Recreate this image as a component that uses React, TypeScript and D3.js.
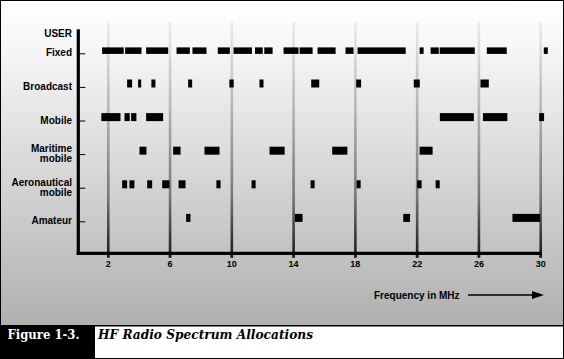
import React from "react";
import * as d3 from "d3";

const users = ["Fixed", "Broadcast", "Mobile", "Maritime mobile", "Aeronautical mobile", "Amateur"];
const userLabels = [["Fixed"], ["Broadcast"], ["Mobile"], ["Maritime", "mobile"], ["Aeronautical", "mobile"], ["Amateur"]];

const fixedBands = [[1.6, 3.0], [3.09, 4.15], [4.45, 5.88], [6.42, 7.28], [7.45, 8.36], [9.09, 9.87], [10.11, 11.3], [11.5, 12.0], [12.1, 12.64], [13.35, 14.32], [14.39, 15.23], [15.55, 16.72], [17.36, 17.88], [18.14, 21.26], [22.16, 22.42], [22.87, 23.4], [23.46, 25.73], [26.51, 27.8], [30.2, 30.46]];
const broadcastBands = [[3.22, 3.54], [3.93, 4.13], [4.79, 5.05], [7.17, 7.43], [9.84, 10.12], [11.79, 12.05], [15.14, 15.66], [18.05, 18.37], [21.78, 22.17], [26.1, 26.64]];
const mobileBands = [[1.55, 2.79], [3.05, 3.39], [3.48, 3.82], [4.45, 5.55], [23.47, 25.67], [26.26, 27.84], [29.9, 30.22]];
const maritimeBands = [[4.02, 4.47], [6.2, 6.68], [8.23, 9.2], [12.44, 13.42], [16.5, 17.48], [22.16, 23.0]];
const aeroBands = [[2.9, 3.22], [3.37, 3.69], [4.52, 4.84], [5.49, 5.96], [6.55, 7.0], [9.0, 9.27], [11.28, 11.54], [15.1, 15.36], [18.08, 18.34], [22.0, 22.29], [23.2, 23.46]];
const amateurBands = [[7.04, 7.32], [14.08, 14.58], [21.1, 21.54], [28.17, 29.96]];

const bandsByUser = [fixedBands, broadcastBands, mobileBands, maritimeBands, aeroBands, amateurBands];
const freqTicks = [2, 6, 10, 14, 18, 22, 26, 30];

const W = 564, H = 359;
const SANS = "'Liberation Sans', Arial, Helvetica, sans-serif";
const SERIF = "'DejaVu Serif', serif";

export default function App() {
  const x = d3.scaleLinear().domain([0, 30]).range([77.4, 540.7]);
  const y = d3.scalePoint<string>().domain(users).range([53.3, 221.3]);
  const axisLeftX = 78.3;
  const axisBottomY = 253.3;
  const gridTop = 22;

  return (
    <svg width={W} height={H} style={{ position: "absolute", left: 0, top: 0, display: "block" }}>
      <defs>
        <linearGradient id="bg" x1="0" y1="0" x2="0" y2="1">
          <stop offset="0" stopColor="#ffffff" />
          <stop offset="0.15" stopColor="#f6f6f6" />
          <stop offset="1" stopColor="#b0b0b0" />
        </linearGradient>
        <linearGradient id="grid" gradientUnits="userSpaceOnUse" x1="0" y1={gridTop} x2="0" y2={axisBottomY}>
          <stop offset="0" stopColor="#ececec" />
          <stop offset="0.35" stopColor="#b8b8b8" />
          <stop offset="0.75" stopColor="#777777" />
          <stop offset="1" stopColor="#1e1e1e" />
        </linearGradient>
      </defs>

      <rect x={0} y={0} width={W} height={326} fill="url(#bg)" />

      {/* grid lines */}
      {freqTicks.map((f) => (
        <rect key={"g" + f} x={x(f) - 1.3} y={gridTop} width={2.6} height={axisBottomY - gridTop + 4} fill="url(#grid)" />
      ))}
      {freqTicks.map((f) => (
        <rect key={"gt" + f} x={x(f) - 1.3} y={axisBottomY} width={2.6} height={4.5} fill="#1e1e1e" />
      ))}

      {/* axes */}
      <line x1={axisLeftX} y1={29.3} x2={axisLeftX} y2={axisBottomY + 1.6} stroke="#000" strokeWidth={3.2} />
      <line x1={axisLeftX - 1.6} y1={axisBottomY} x2={541.8} y2={axisBottomY} stroke="#000" strokeWidth={3.2} />

      {/* y ticks */}
      {users.map((u) => (
        <line key={"t" + u} x1={axisLeftX + 1.6} x2={axisLeftX + 7} y1={y(u)! + 0.5} y2={y(u)! + 0.5} stroke="#000" strokeWidth={1} />
      ))}

      {/* y labels */}
      <text x={72} y={36.6} textAnchor="end" fontFamily={SANS} fontWeight="bold" fontSize={10} fill="#000">USER</text>
      {users.map((u, i) => {
        const lines = userLabels[i];
        const cy = y(u)!;
        return lines.map((ln, j) => {
          const c = lines.length === 1 ? cy - 0.5 : cy + (j === 0 ? -5.6 : 4.6);
          return (
            <text key={u + j} x={72} y={c + 3.6} textAnchor="end" fontFamily={SANS} fontWeight="bold" fontSize={10} fill="#000">
              {ln}
            </text>
          );
        });
      })}

      {/* bars */}
      {users.map((u, i) => {
        const h = i === 0 ? 6.5 : 8;
        return bandsByUser[i].map(([a, b], k) => (
          <rect key={u + "b" + k} x={x(a)} width={x(b) - x(a)} y={y(u)! - h + 0.6} height={h} fill="#000" />
        ));
      })}

      {/* x tick labels */}
      {freqTicks.map((f) => (
        <text key={"xl" + f} x={x(f)} y={267.4} textAnchor="middle" fontFamily={SANS} fontWeight="bold" fontSize={9} fill="#000">
          {f}
        </text>
      ))}

      {/* axis title with arrow */}
      <text x={374} y={298.6} fontFamily={SANS} fontWeight="bold" fontSize={10} fill="#000">Frequency in MHz</text>
      <line x1={468} x2={535} y1={295} y2={295} stroke="#000" strokeWidth={1.6} />
      <polygon points="532,291 544,295 532,299" fill="#000" />

      {/* caption */}
      <rect x={0} y={326} width={W} height={H - 326} fill="#fff" />
      <rect x={0} y={325.5} width={95} height={H - 325.5} fill="#000" />
      <line x1={0} x2={W} y1={325.8} y2={325.8} stroke="#000" strokeWidth={1.5} />
      <text x={7.5} y={339} fontFamily={SERIF} fontWeight="bold" fontSize={12} fill="#fff" textLength={72} lengthAdjust="spacingAndGlyphs">Figure 1-3.</text>
      <text x={98} y={339} fontFamily={SERIF} fontWeight="bold" fontStyle="italic" fontSize={12.5} fill="#000" textLength={215} lengthAdjust="spacingAndGlyphs">HF Radio Spectrum Allocations</text>

      {/* outer border */}
      <rect x={0.5} y={0.5} width={W - 1} height={H - 1} fill="none" stroke="#000" strokeWidth={1} />
    </svg>
  );
}
